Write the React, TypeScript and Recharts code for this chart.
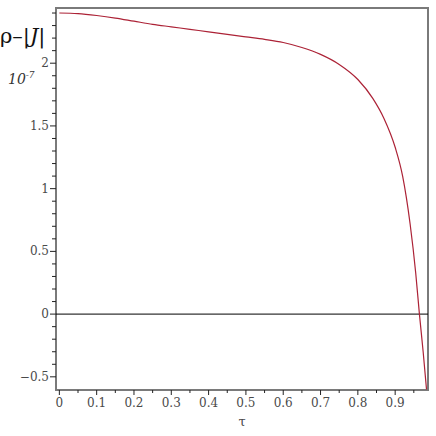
import React from 'react';
import { LineChart, Line, XAxis, YAxis, ReferenceLine, ReferenceArea } from 'recharts';

// tau samples and rho-|J| values (units of 1e-7)
const tauValues = [
  0, 0.05, 0.1, 0.15, 0.2, 0.25, 0.3, 0.35, 0.4, 0.45, 0.5, 0.55, 0.6, 0.65,
  0.7, 0.75, 0.8, 0.84, 0.87, 0.9, 0.92, 0.94, 0.955, 0.965, 0.975, 0.984,
];
const rhoMinusJ = [
  2.4, 2.395, 2.38, 2.36, 2.335, 2.31, 2.29, 2.27, 2.25, 2.23, 2.21, 2.19, 2.165, 2.125,
  2.07, 1.99, 1.87, 1.72, 1.56, 1.33, 1.1, 0.72, 0.33, 0.0, -0.3, -0.6,
];

const xMajorTicks = [0, 0.1, 0.2, 0.3, 0.4, 0.5, 0.6, 0.7, 0.8, 0.9];
const xMinorTicks = [0.05, 0.15, 0.25, 0.35, 0.45, 0.55, 0.65, 0.75, 0.85, 0.95];
const yMajorTicks = [-0.5, 0, 0.5, 1, 1.5, 2];
const yMinorTicks = [
  -0.4, -0.3, -0.2, -0.1, 0.1, 0.2, 0.3, 0.4, 0.6, 0.7, 0.8, 0.9,
  1.1, 1.2, 1.3, 1.4, 1.6, 1.7, 1.8, 1.9, 2.1, 2.2, 2.3, 2.4,
];

const xDomain: [number, number] = [-0.009, 0.988];
const yDomain: [number, number] = [-0.605, 2.44];

const data = tauValues.map((tau, i) => ({ tau, value: rhoMinusJ[i] }));

const FRAME = '#7a7a7a';
const LABEL = '#4a4a4a';
const FONT = 'DejaVu Serif';

const isMajor = (list: number[], v: number) => list.some((t) => Math.abs(t - v) < 1e-6);

function fmt(v: number) {
  return v < 0 ? `\u2212${Math.abs(v)}` : `${v}`;
}

function XTick(props: any) {
  const { x, y, payload } = props;
  const major = isMajor(xMajorTicks, payload.value);
  return (
    <g>
      <line x1={x} x2={x} y1={y} y2={y + (major ? 5 : 3)} stroke="#222" strokeWidth={1} />
      {major && (
        <text x={x} y={y + 17} textAnchor="middle" fill={LABEL} fontFamily={FONT} fontSize={12}>
          {payload.value}
        </text>
      )}
    </g>
  );
}

function YTick(props: any) {
  const { x, y, payload } = props;
  const major = isMajor(yMajorTicks, payload.value);
  return (
    <g>
      <line x1={x - (major ? 6 : 4)} x2={x} y1={y} y2={y} stroke="#222" strokeWidth={1} />
      {major && (
        <text x={x - 7} y={y + 4} textAnchor="end" fill={LABEL} fontFamily={FONT} fontSize={12}>
          {fmt(payload.value)}
        </text>
      )}
    </g>
  );
}

export default function App() {
  return (
    <div style={{ position: 'absolute', left: 0, top: 0, width: 436, height: 436, background: '#fff' }}>
      <LineChart width={436} height={436} data={data} margin={{ top: 8, right: 8, left: 0, bottom: 0 }}>
        <XAxis
          dataKey="tau"
          type="number"
          domain={xDomain}
          ticks={[...xMajorTicks, ...xMinorTicks].sort((a, b) => a - b)}
          tick={<XTick />}
          tickLine={false}
          axisLine={false}
          tickSize={0}
          tickMargin={0}
          height={46}
          interval={0}
          allowDataOverflow
          label={{ value: '\u03c4', position: 'insideBottom', offset: 10, fontFamily: FONT, fontSize: 13, fill: LABEL }}
        />
        <YAxis
          type="number"
          domain={yDomain}
          ticks={[...yMajorTicks, ...yMinorTicks].sort((a, b) => a - b)}
          tick={<YTick />}
          tickLine={false}
          axisLine={false}
          tickSize={0}
          tickMargin={0}
          width={56}
          interval={0}
          allowDataOverflow
        />
        <ReferenceLine y={0} stroke="#000" strokeWidth={1} />
        <Line
          type="monotone"
          dataKey="value"
          stroke="#ac2236"
          strokeWidth={1.2}
          dot={false}
          isAnimationActive={false}
        />
        <ReferenceArea
          x1={xDomain[0]}
          x2={xDomain[1]}
          y1={yDomain[0]}
          y2={yDomain[1]}
          stroke={FRAME}
          strokeWidth={2}
          fill="none"
          fillOpacity={0}
          ifOverflow="visible"
        />
      </LineChart>
      <div
        style={{
          position: 'absolute',
          left: 0,
          top: 24,
          fontFamily: FONT,
          fontSize: 21,
          color: '#111',
          whiteSpace: 'nowrap',
        }}
      >
        {'\u03c1\u2013|'}
        <i>J</i>|
      </div>
      <div
        style={{
          position: 'absolute',
          left: 8,
          top: 70,
          fontFamily: FONT,
          fontStyle: 'italic',
          fontSize: 14,
          color: '#333',
          whiteSpace: 'nowrap',
        }}
      >
        10<sup style={{ fontSize: 9 }}>-7</sup>
      </div>
    </div>
  );
}
